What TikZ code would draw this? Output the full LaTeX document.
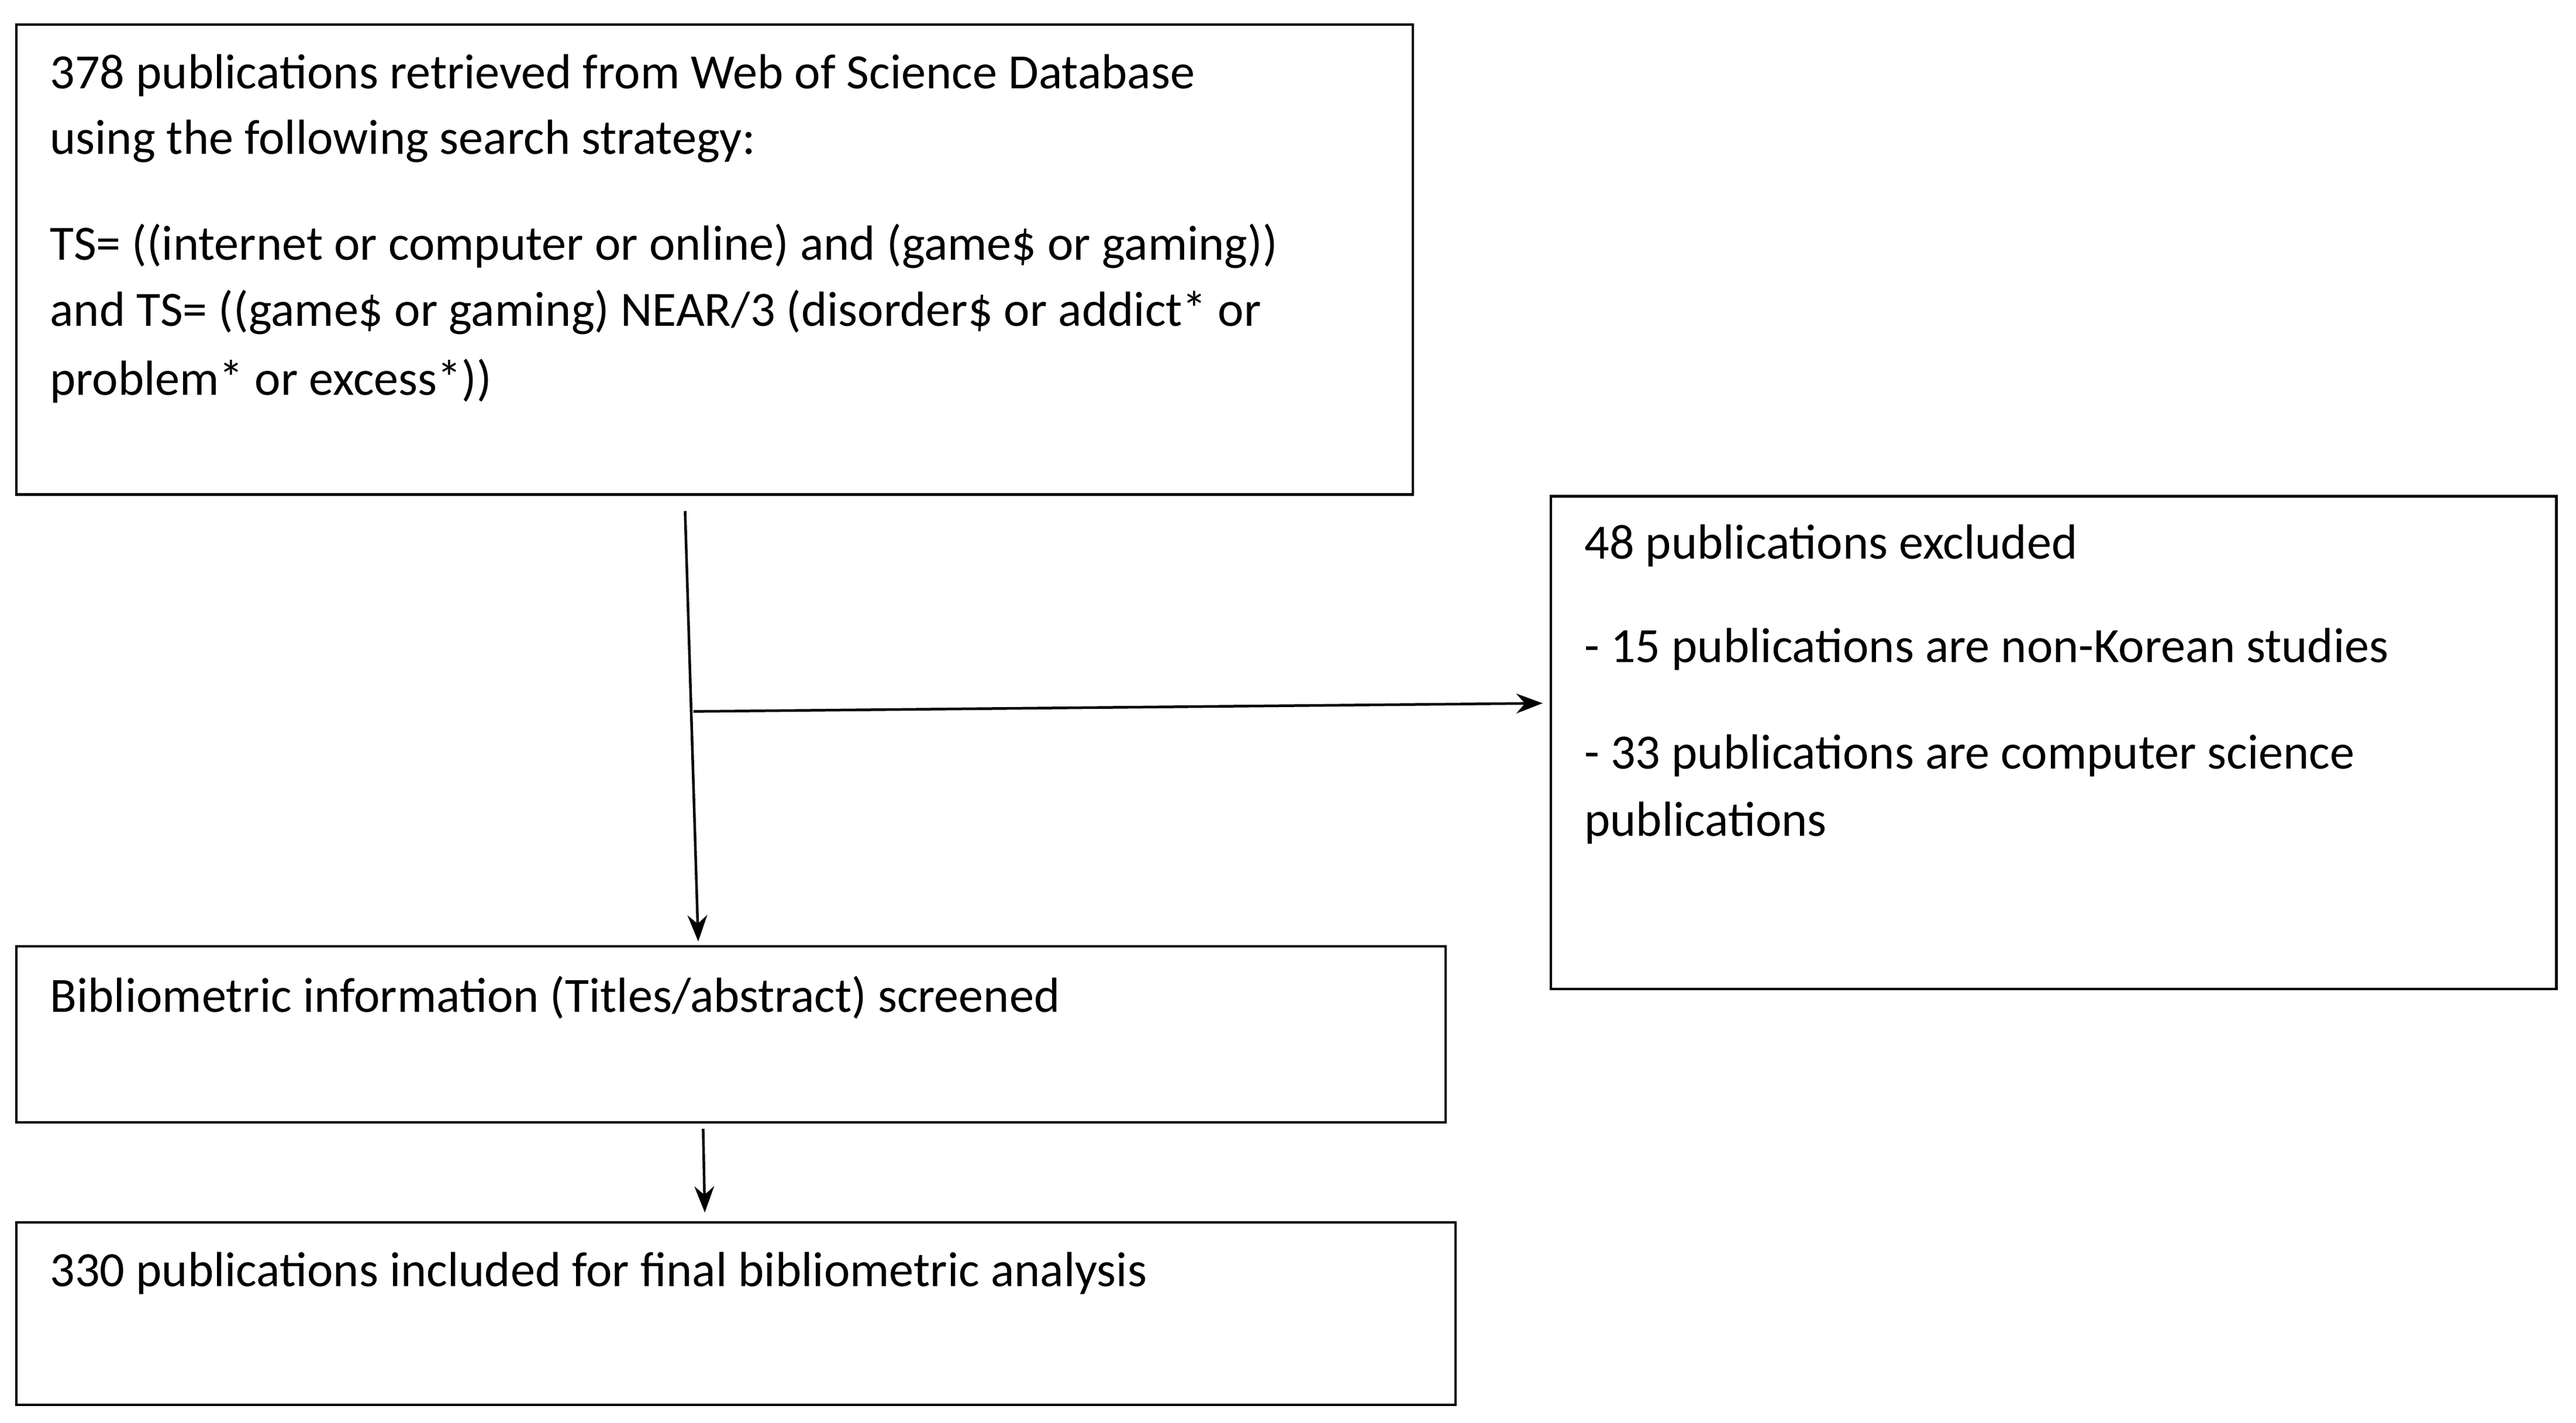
\documentclass[tikz,border=0pt]{standalone}
\usepackage{fontspec}
\setmainfont{Carlito}
\usetikzlibrary{arrows.meta}
\begin{document}
\begin{tikzpicture}[x=0.5pt,y=-0.5pt,
  box/.style={draw=black,line width=0.8pt},
  txt/.style={anchor=west,inner sep=0pt,font=\fontsize{15}{18}\selectfont},
  arr/.style={draw=black,line width=0.8pt,-{Stealth[length=8pt,width=6pt]}}]
\path[fill=white] (0,0) rectangle (1568,866);
\useasboundingbox (0,0) rectangle (1568,866);
\draw[box] (10,15) rectangle (860,301);
\draw[box] (944,302) rectangle (1556,602);
\draw[box] (10,576) rectangle (880,683);
\draw[box] (10,744) rectangle (886,855);
\node[txt] at (30,46) {378 publications retrieved from Web of Science Database};
\node[txt] at (30,86) {using the following search strategy:};
\node[txt] at (30,150) {TS= ((internet or computer or online) and (game\$ or gaming))};
\node[txt] at (30,190) {and TS= ((game\$ or gaming) NEAR/3 (disorder\$ or addict* or};
\node[txt] at (30,232) {problem* or excess*))};
\node[txt] at (964,332) {48 publications excluded};
\node[txt] at (964,395) {- 15 publications are non-Korean studies};
\node[txt] at (964,460) {- 33 publications are computer science};
\node[txt] at (964,501) {publications};
\node[txt] at (30,607) {Bibliometric information (Titles/abstract) screened};
\node[txt] at (30,775) {330 publications included for final bibliometric analysis};
\coordinate (a1) at (417,311);
\coordinate (a2) at (425,573);
\coordinate (b1) at (422,433);
\coordinate (b2) at (939,428);
\coordinate (c1) at (428,687);
\coordinate (c2) at (429,738);
\draw[arr] (a1) -- (a2);
\draw[arr] (b1) -- (b2);
\draw[arr] (c1) -- (c2);
\end{tikzpicture}
\end{document}
